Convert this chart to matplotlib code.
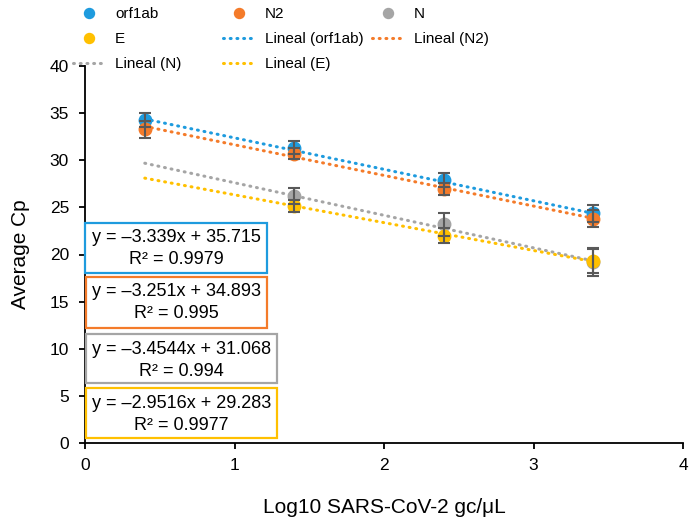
import matplotlib
matplotlib.use("Agg")
import matplotlib.pyplot as plt # matplotlib.pyplotをインポート
from matplotlib.patches import Rectangle

plt.rcParams["font.family"] = ["Liberation Sans", "DejaVu Sans"] # Arial相当のフォント

# データ
x_orf1ab = [0.4, 1.4, 2.4, 3.4]
y_orf1ab = [34.25, 31.35, 27.9, 24.4]
e_orf1ab = [0.75, 0.7, 0.7, 0.9]

x_n2 = [0.4, 1.4, 2.4, 3.4]
y_n2 = [33.3, 30.7, 26.95, 23.8]
e_n2 = [0.9, 0.6, 0.6, 0.9]

x_n = [1.4, 2.4, 3.4]
y_n = [26.25, 23.2, 19.2]
e_n = [0.85, 1.2, 1.5]

x_e = [1.4, 2.4, 3.4]
y_e = [25.15, 22.0, 19.3]
e_e = [0.65, 0.8, 1.3]

# 近似直線の係数 (傾き, 切片, R²)
fit_orf1ab = (-3.339, 35.715, "0.9979")
fit_n2 = (-3.251, 34.893, "0.995")
fit_n = (-3.4544, 31.068, "0.994")
fit_e = (-2.9516, 29.283, "0.9977")
fit_x = [0.4, 3.4]

c_blue = "#1E9BDE"
c_orange = "#F47B2A"
c_gray = "#A5A5A5"
c_yellow = "#FFC000"

W, H = 693, 525
fig = plt.figure(figsize=(W / 100, H / 100), dpi=100)
ax = fig.add_axes([85 / W, 82 / H, 598 / W, 377 / H])

series = [
    ("orf1ab", x_orf1ab, y_orf1ab, e_orf1ab, fit_orf1ab, c_blue),
    ("N2", x_n2, y_n2, e_n2, fit_n2, c_orange),
    ("N", x_n, y_n, e_n, fit_n, c_gray),
    ("E", x_e, y_e, e_e, fit_e, c_yellow),
]

pts = {}
lines = {}
for name, xs, ys, es, fit, col in series:
    # 近似直線 (点線)
    fy = [fit[0] * v + fit[1] for v in fit_x]
    ln, = ax.plot(fit_x, fy, color=col, lw=2.2, linestyle=(0, (0.3, 1.9)),
                  dash_capstyle="round", zorder=2, label="Lineal (" + name + ")")
    lines[name] = ln
    # 点と誤差棒
    p, = ax.plot(xs, ys, "o", color=col, ms=9, zorder=3, label=name)
    pts[name] = p
    ax.errorbar(xs, ys, yerr=es, fmt="none", ecolor="#595959", elinewidth=1.5,
                capsize=4, capthick=1.5, zorder=4)

ax.set_xlim(0, 4)
ax.set_ylim(0, 40)
ax.set_xticks([0, 1, 2, 3, 4])
ax.set_yticks(range(0, 41, 5))
ax.spines["top"].set_visible(False)
ax.spines["right"].set_visible(False)
ax.spines["left"].set_linewidth(1.3)
ax.spines["bottom"].set_linewidth(1.3)
ax.tick_params(labelsize=12.5, direction="out", length=4.5, width=1.3, colors="#000000")
ax.tick_params(axis="y", pad=7)
ax.tick_params(axis="x", pad=6)
ax.set_xlabel("Log10 SARS-CoV-2 gc/μL", fontsize=15, labelpad=18)
ax.set_ylabel("Average Cp", fontsize=15, labelpad=14)

# 凡例 (列ごとに別々に配置)
columns = [
    ([pts["orf1ab"], pts["E"], lines["N"]], 73),
    ([pts["N2"], lines["orf1ab"], lines["E"]], 223),
    ([pts["N"], lines["N2"]], 372),
]
for hs, lx in columns:
    fig.legend(handles=hs, labels=[h.get_label() for h in hs],
               loc="upper left", bbox_to_anchor=(lx / W, 1 - 7 / H),
               frameon=False, fontsize=11, handlelength=2.1, handletextpad=0.65,
               labelspacing=0.72, borderpad=0, borderaxespad=0, markerscale=0.8)

# 近似式のテキストボックス (左, 上, 右, 下 ピクセル)
boxes = [
    (fit_orf1ab, c_blue, 85, 223, 267, 273),
    (fit_n2, c_orange, 86, 277, 267, 328),
    (fit_n, c_gray, 86, 334, 277, 383),
    (fit_e, c_yellow, 86, 388, 277, 438),
]
for fit, col, x0, y0, x1, y1 in boxes:
    fig.patches.append(Rectangle((x0 / W, 1 - y1 / H), (x1 - x0) / W, (y1 - y0) / H,
                                 transform=fig.transFigure, fc="white", ec=col,
                                 lw=1.6, zorder=5))
    cx = (x0 + x1) / 2 / W
    eq = "y = –%sx + %s" % (str(-fit[0]), "%.3f" % fit[1])
    fig.text(cx, 1 - (y0 + 15) / H, eq, ha="center", va="center", fontsize=13, zorder=6)
    fig.text(cx, 1 - (y0 + 37) / H, "R² = " + fit[2], ha="center", va="center",
             fontsize=13, zorder=6)

fig.savefig("out.png", dpi=100)
